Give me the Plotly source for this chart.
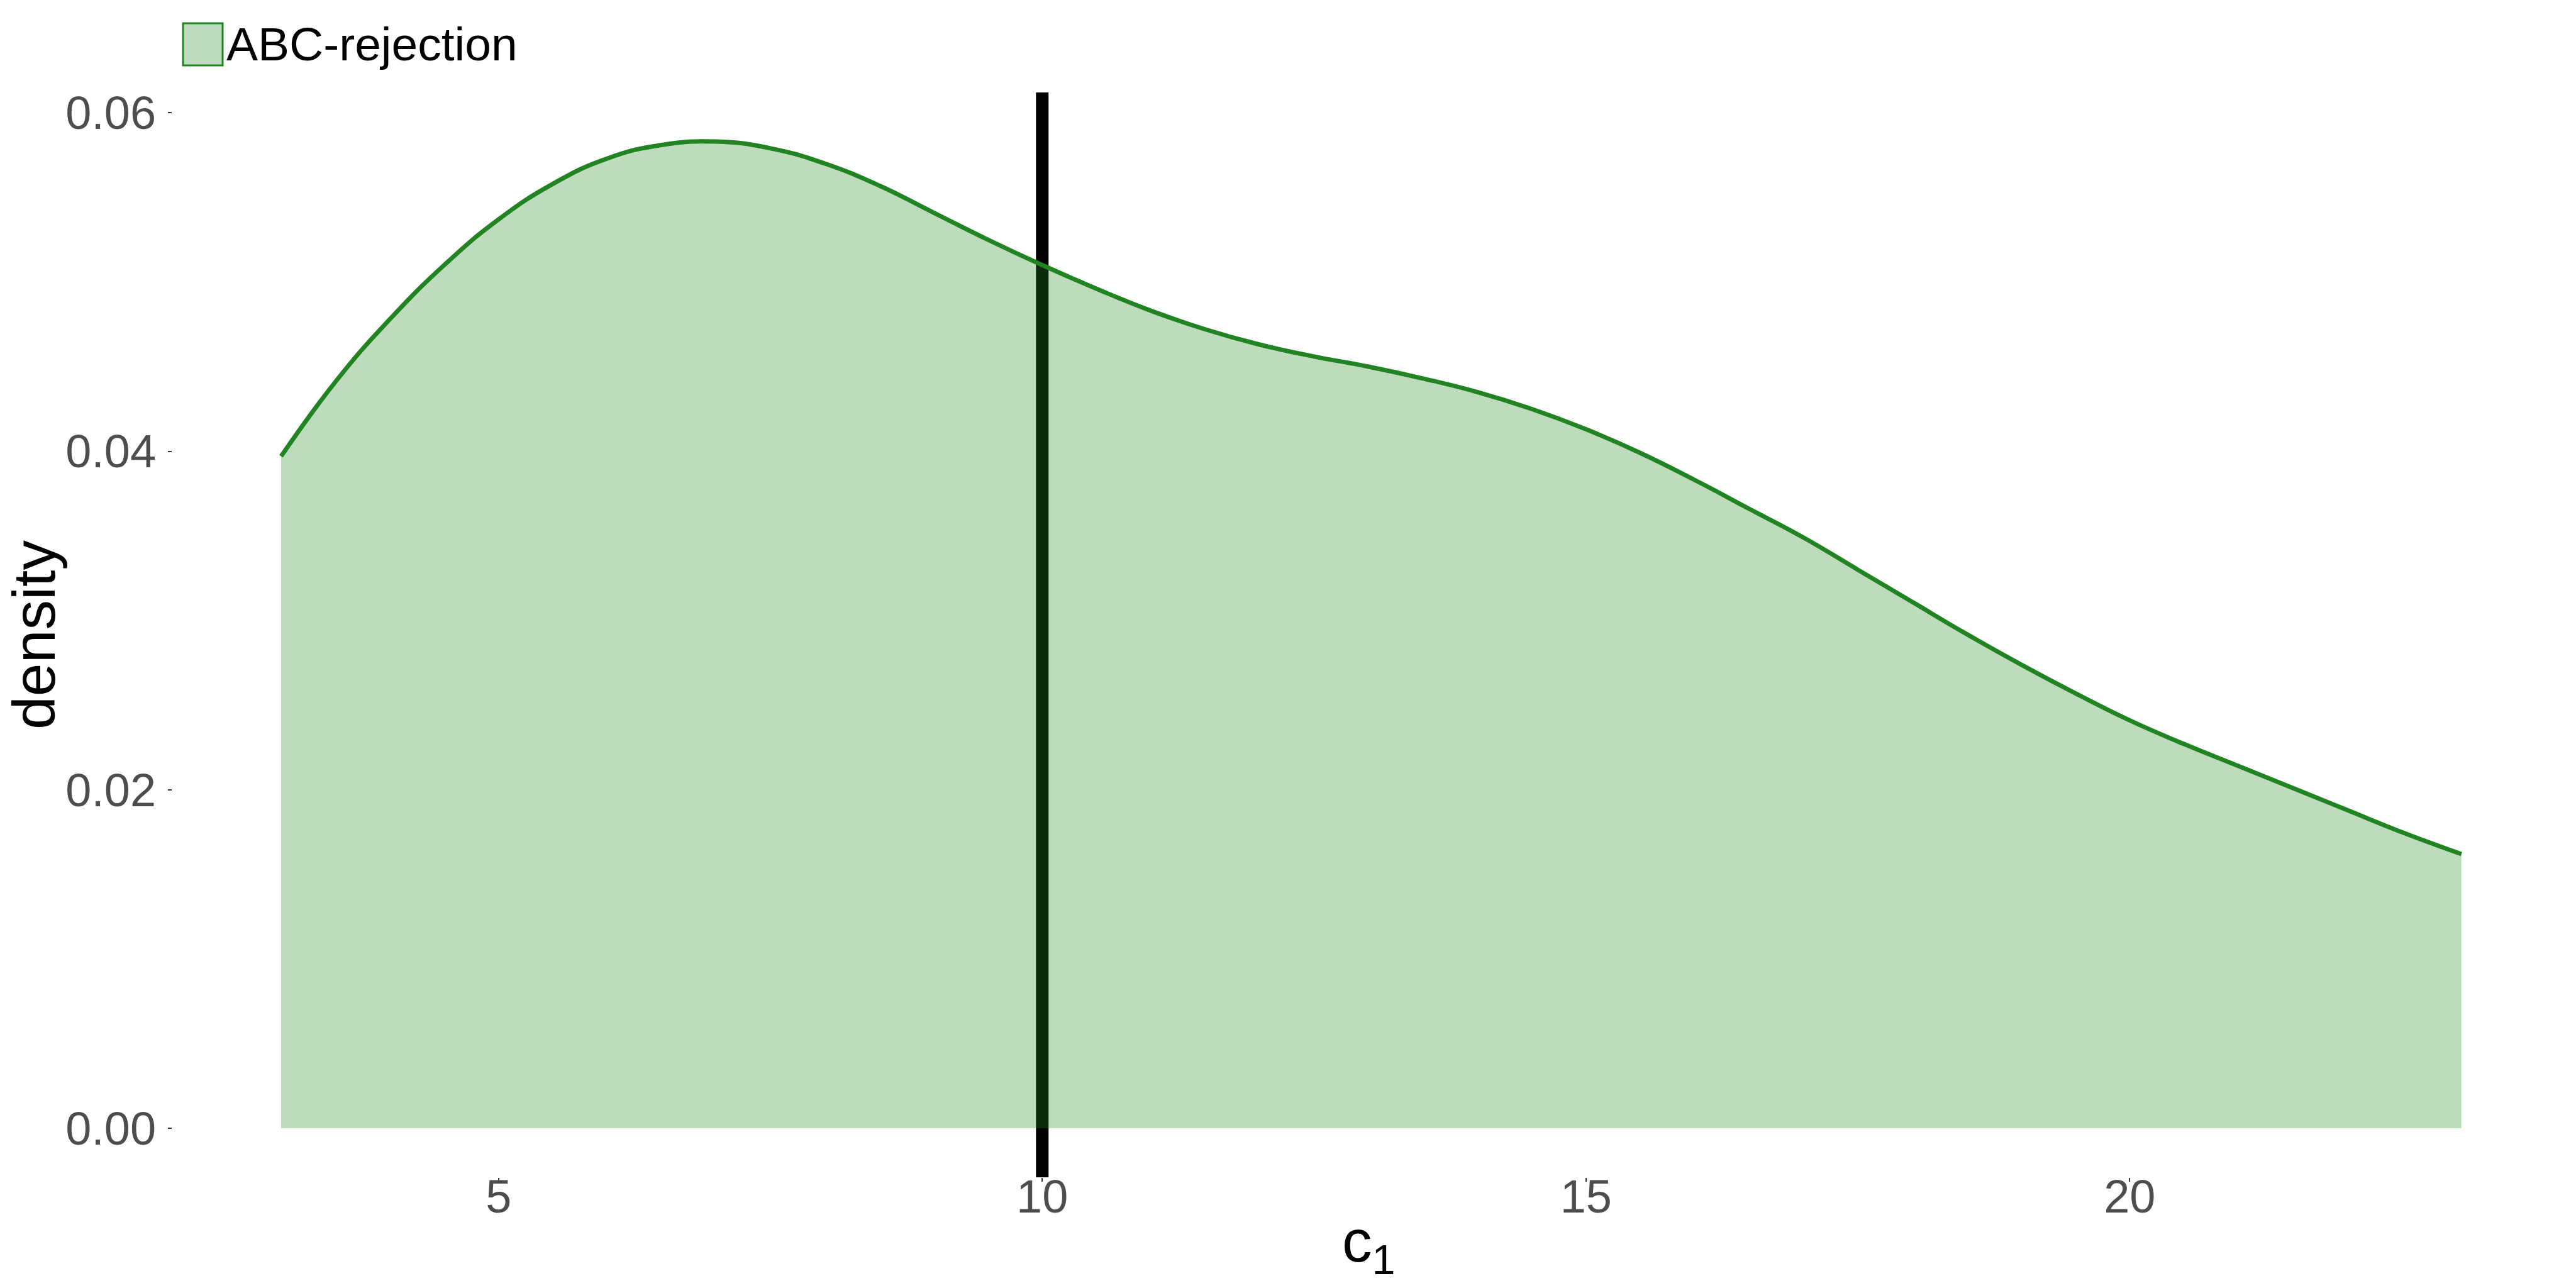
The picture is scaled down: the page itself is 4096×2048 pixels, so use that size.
import plotly.graph_objects as go

# ---- data ----
c1_values = [3.0, 3.5, 4.0, 4.5, 5.0, 5.5, 6.0, 6.5, 7.0, 7.5, 8.0, 8.5, 9.0, 9.5, 10.0,
             10.5, 11.0, 11.5, 12.0, 12.5, 13.0, 13.5, 14.0, 14.5, 15.0, 15.5, 16.0,
             16.5, 17.0, 17.5, 18.0, 18.5, 19.0, 19.5, 20.0, 20.5, 21.0, 21.5, 22.0,
             22.5, 23.05]
density_values = [0.0397, 0.0441, 0.0478, 0.0510, 0.0537, 0.0558, 0.0573, 0.0581, 0.0583,
                  0.0579, 0.0570, 0.0557, 0.0541, 0.0525, 0.0510, 0.0496, 0.0483, 0.0472,
                  0.0463, 0.0456, 0.0450, 0.0443, 0.0435, 0.0425, 0.0413, 0.0399, 0.0383,
                  0.0366, 0.0349, 0.0330, 0.0311, 0.0292, 0.0274, 0.0257, 0.0241, 0.0227,
                  0.0214, 0.0201, 0.0188, 0.0175, 0.0162]
true_value = 10
series_name = "ABC-rejection"
x_ticks = [5, 10, 15, 20]
y_ticks = [0.00, 0.02, 0.04, 0.06]
y_tick_labels = ["0.00", "0.02", "0.04", "0.06"]

# ---- layout geometry ----
W, H = 4096, 2048
L, R, T, B = 266, 26, 139, 184
PW, PH = W - L - R, H - T - B


def px_x(p):
    return (p - L) / PW


def px_y(p):
    return (H - B - p) / PH


FONT = "Liberation Sans, Arial, sans-serif"
LINE_COLOR = "#218321"
FILL_COLOR = "rgba(34,139,34,0.3)"

fig = go.Figure()
fig.add_trace(go.Scatter(
    x=c1_values, y=density_values, mode="lines",
    line=dict(color=LINE_COLOR, width=7, shape="spline", smoothing=1.3),
    fill="tozeroy", fillcolor=FILL_COLOR, name=series_name, showlegend=False,
    hoverinfo="x+y",
))

# true-value vertical line (drawn below the semi-transparent fill)
fig.add_shape(type="line", xref="x", yref="paper", x0=true_value, x1=true_value,
              y0=0, y1=1, line=dict(color="black", width=20), layer="below")

# manual legend
fig.add_shape(type="rect", xref="paper", yref="paper",
              x0=px_x(283), x1=px_x(346), y0=px_y(29), y1=px_y(96),
              line=dict(color=LINE_COLOR, width=3), fillcolor="#BDDCBD")
fig.add_annotation(text=series_name, xref="paper", yref="paper",
                   x=px_x(350), y=px_y(62), xanchor="left", yanchor="middle",
                   showarrow=False, font=dict(family=FONT, size=75, color="black"))

# axis titles
fig.add_annotation(text="density", xref="paper", yref="paper", textangle=-90,
                   x=px_x(46), y=px_y(1001), xanchor="center", yanchor="middle",
                   showarrow=False, borderpad=0,
                   font=dict(family=FONT, size=95, color="black"))
fig.add_annotation(text="c<sub>1</sub>", xref="paper", yref="paper",
                   x=0.5, y=px_y(1972), xanchor="center", yanchor="middle",
                   showarrow=False, font=dict(family=FONT, size=95, color="black"))

fig.update_layout(
    width=W, height=H,
    margin=dict(l=L, r=R, t=T, b=B, pad=0),
    paper_bgcolor="white", plot_bgcolor="white",
    font=dict(family=FONT),
    showlegend=False,
)
fig.update_xaxes(range=[2, 24], tickvals=x_ticks, showgrid=False, zeroline=False,
                 showline=False, ticks="outside", ticklen=6, tickwidth=1.5,
                 tickcolor="#333333", ticklabelstandoff=-40,
                 tickfont=dict(family=FONT, size=74, color="#4D4D4D"))
fig.update_yaxes(range=[-0.0029, 0.0612], tickvals=y_ticks, ticktext=y_tick_labels,
                 showgrid=False, zeroline=False, showline=False, ticks="outside",
                 ticklen=6, tickwidth=1.5, tickcolor="#333333", ticklabelstandoff=4,
                 tickfont=dict(family=FONT, size=74, color="#4D4D4D"))

fig.write_html("out.html")
